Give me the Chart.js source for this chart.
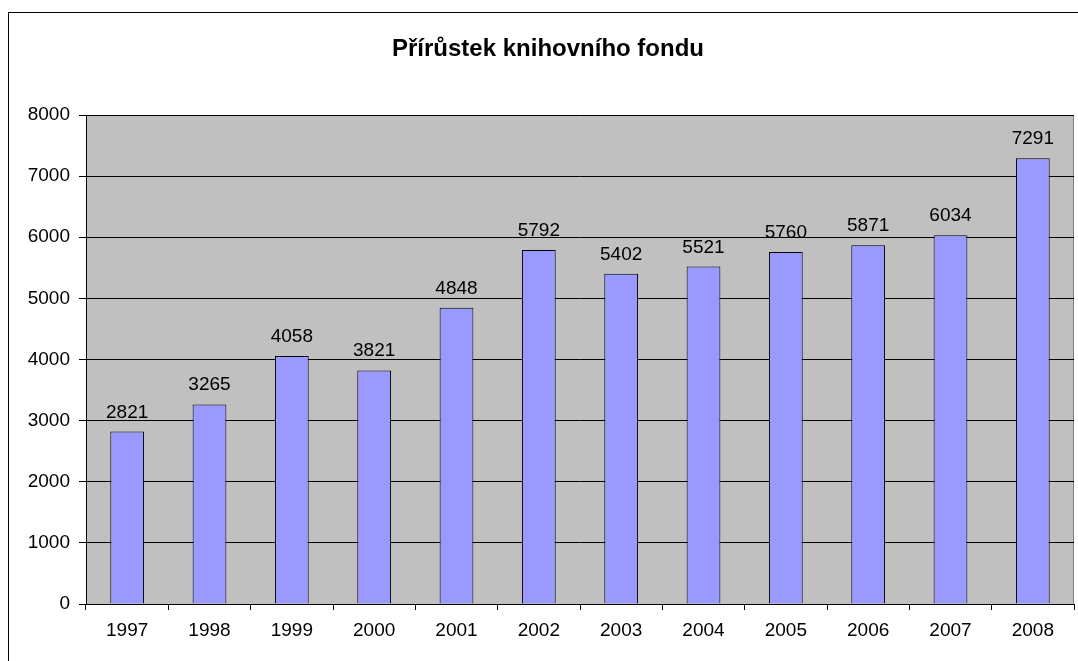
<!DOCTYPE html>
<html>
<head>
<meta charset="utf-8">
<title>Přírůstek knihovního fondu</title>
<script src="https://cdn.jsdelivr.net/npm/chart.js@4/dist/chart.umd.min.js"></script>
<style>
    html, body { margin: 0; padding: 0; background: #fff; }
    canvas { display: block; }
</style>
</head>
<body>
<canvas id="fondChart" width="1078" height="661"></canvas>
<script>
const chartTitle = 'Přírůstek knihovního fondu';
const years = ['1997', '1998', '1999', '2000', '2001', '2002', '2003', '2004', '2005', '2006', '2007', '2008'];
const prirustek = [2821, 3265, 4058, 3821, 4848, 5792, 5402, 5521, 5760, 5871, 6034, 7291];
const yMin = 0;
const yMax = 8000;
const yStep = 1000;

const FONT = '"Liberation Sans", Arial, sans-serif';

// sede pozadi grafu + ramecek kolem celeho obrazku
const excelLook = {
    id: 'excelLook',
    beforeDraw(chart) {
        const ctx = chart.ctx;
        const a = chart.chartArea;
        ctx.save();
        ctx.fillStyle = '#fff';
        ctx.fillRect(0, 0, chart.width, chart.height);
        ctx.strokeStyle = '#000';
        ctx.lineWidth = 1;
        ctx.strokeRect(8.5, 12.5, chart.width + 20, chart.height + 20);
        ctx.fillStyle = '#c0c0c0';
        ctx.fillRect(a.left, a.top, a.right - a.left, a.bottom - a.top);
        ctx.strokeStyle = '#808080';
        ctx.strokeRect(a.left + 0.5, a.top + 0.5, a.right - a.left - 1, a.bottom - a.top);
        // nadpis
        ctx.fillStyle = '#000';
        ctx.font = 'bold 24px ' + FONT;
        ctx.textAlign = 'center';
        ctx.textBaseline = 'middle';
        ctx.fillText(chartTitle, 548, 49);
        ctx.restore();
    }
};

// hodnoty nad sloupci
const barValues = {
    id: 'barValues',
    afterDatasetsDraw(chart) {
        const ctx = chart.ctx;
        const meta = chart.getDatasetMeta(0);
        ctx.save();
        ctx.fillStyle = '#000';
        ctx.font = '19px ' + FONT;
        ctx.textAlign = 'center';
        ctx.textBaseline = 'alphabetic';
        meta.data.forEach((bar, i) => {
            ctx.fillText(String(prirustek[i]), bar.x, bar.y - 14);
        });
        ctx.restore();
    }
};

new Chart(document.getElementById('fondChart').getContext('2d'), {
    type: 'bar',
    data: {
        labels: years,
        datasets: [{
            label: chartTitle,
            data: prirustek,
            backgroundColor: '#9999ff',
            borderColor: '#000',
            borderWidth: 1,
            barPercentage: 0.41,
            categoryPercentage: 1.0
        }]
    },
    options: {
        responsive: false,
        animation: false,
        devicePixelRatio: 1,
        layout: { padding: { top: 115, right: 4, left: 0, bottom: 0 } },
        plugins: {
            legend: { display: false },
            title: { display: false },
            tooltip: { enabled: false }
        },
        scales: {
            x: {
                grid: {
                    offset: true,
                    drawOnChartArea: false,
                    drawTicks: true,
                    tickLength: 6,
                    color: '#000'
                },
                border: { display: true, color: '#000', width: 1 },
                ticks: {
                    color: '#000',
                    font: { family: FONT, size: 19 },
                    padding: 9,
                    maxRotation: 0,
                    autoSkip: false
                },
                afterFit(scale) { scale.height = 57; }
            },
            y: {
                min: yMin,
                max: yMax,
                grid: {
                    color: '#000',
                    lineWidth: 1,
                    drawTicks: true,
                    tickLength: 7
                },
                border: { display: true, color: '#000', width: 1 },
                ticks: {
                    stepSize: yStep,
                    color: '#000',
                    font: { family: FONT, size: 19 },
                    padding: 9,
                    callback: (v) => String(v)
                },
                afterFit(scale) { scale.width = 86; }
            }
        }
    },
    plugins: [excelLook, barValues]
});
</script>
</body>
</html>
